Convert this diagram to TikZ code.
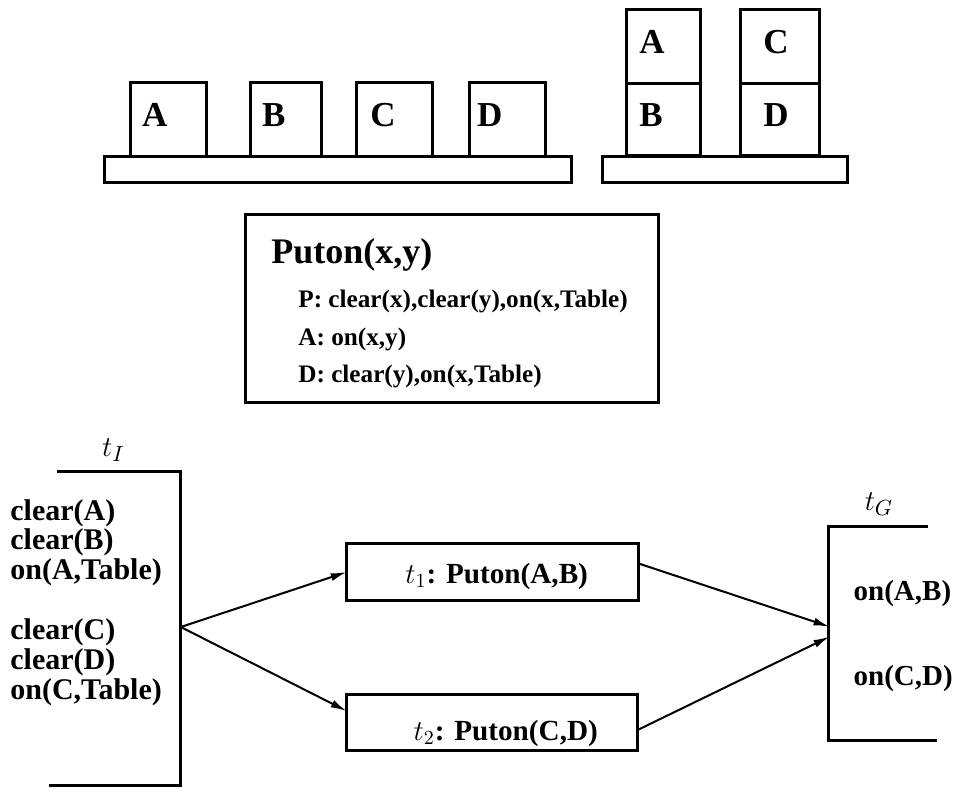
\documentclass[tikz,border=0pt]{standalone}
\usepackage{fontspec}
\setmainfont{Liberation Serif}
\usetikzlibrary{arrows.meta,calc}

\begin{document}
\begin{tikzpicture}[x=0.5pt,y=-0.5pt,
  thick edge/.style={line width=1.5pt},
  box/.style={draw, line width=1.5pt, inner sep=0pt, outer sep=0pt, anchor=north west},
  blocklabel/.style={anchor=base west, inner sep=0pt, font=\fontsize{17.5}{20}\selectfont\bfseries},
  factlabel/.style={anchor=base west, inner sep=0pt, font=\fontsize{15}{18}\selectfont\bfseries},
  goallabel/.style={anchor=base west, inner sep=0pt, font=\fontsize{14.5}{17}\selectfont\bfseries},
  oplabel/.style={anchor=base west, inner sep=0pt, font=\fontsize{12.6}{15}\selectfont\bfseries},
  steplabel/.style={anchor=base west, inner sep=0pt, font=\fontsize{14.6}{17}\selectfont\bfseries},
  link/.style={line width=1pt, -{Latex[length=8pt,width=4pt]}}]

\useasboundingbox (0,0) rectangle (960,789);

% initial state: four blocks on the table
\node[box, minimum width=38.35pt, minimum height=37pt] (bA) at (130,82.7) {};
\node[box, minimum width=35.85pt, minimum height=37pt] (bB) at (250,82.7) {};
\node[box, minimum width=38.35pt, minimum height=37pt] (bC) at (356,82.7) {};
\node[box, minimum width=38.35pt, minimum height=37pt] (bD) at (469,82.7) {};
\node[box, minimum width=233.85pt, minimum height=13pt] (table1) at (104,156.7) {};
\node[blocklabel] (lA) at (141.7,126.7) {A};
\node[blocklabel] (lB) at (261.7,126.7) {B};
\node[blocklabel] (lC) at (370,126.7) {C};
\node[blocklabel] (lD) at (476.7,126.7) {D};

% goal state: A on B, C on D
\node[box, minimum width=36.65pt, minimum height=37pt] (gA) at (626.7,9.3) {};
\node[box, minimum width=36.65pt, minimum height=35.85pt] (gB) at (626.7,83.3) {};
\node[box, minimum width=39.65pt, minimum height=37pt] (gC) at (740,9.3) {};
\node[box, minimum width=39.65pt, minimum height=35.85pt] (gD) at (740,83.3) {};
\node[box, minimum width=122.3pt, minimum height=13.35pt] (table2) at (602.7,156) {};
\node[blocklabel] (mA) at (639,53.3) {A};
\node[blocklabel] (mB) at (639,126.7) {B};
\node[blocklabel] (mC) at (763,53.3) {C};
\node[blocklabel] (mD) at (763,126.7) {D};

% operator schema
\node[box, minimum width=206.5pt, minimum height=94pt] (schema) at (245,214) {};
\node[anchor=base west, inner sep=0pt, font=\fontsize{18}{21}\selectfont\bfseries] (title) at (271,263) {Puton(x,y)};
\node[oplabel] (pre) at (298,307) {P: clear(x),clear(y),on(x,Table)};
\node[oplabel] (add) at (298,345) {A: on(x,y)};
\node[oplabel] (del) at (298,382) {D: clear(y),on(x,Table)};

% initial step t_I
\node[anchor=base west, inner sep=0pt, font=\fontsize{15}{18}\selectfont] (tI) at (101.7,456) {$t_I$};
\draw[thick edge] (57.3,471) -- (180,471) -- (180,785) -- (49.3,785);
\coordinate (tIout) at (180.8,627);
\node[factlabel] (f1) at (10,520) {clear(A)};
\node[factlabel] (f2) at (10,549.5) {clear(B)};
\node[factlabel] (f3) at (10,579) {on(A,Table)};
\node[factlabel] (f4) at (10,639) {clear(C)};
\node[factlabel] (f5) at (10,669) {clear(D)};
\node[factlabel] (f6) at (10,699) {on(C,Table)};

% goal step t_G
\node[anchor=base, inner sep=0pt, font=\fontsize{15}{18}\selectfont] (tG) at (879,510.7) {$t_G$};
\draw[thick edge] (928.3,526.7) -- (828.3,526.7) -- (828.3,740) -- (936.7,740);
\coordinate (tGinA) at (829.5,626.7);
\coordinate (tGinB) at (829.5,636.7);
\node[goallabel] (g1) at (853.3,600) {on(A,B)};
\node[goallabel] (g2) at (853.3,685) {on(C,D)};

% plan steps
\node[box, minimum width=145.8pt, minimum height=28.7pt] (t1) at (346.7,543.3) {};
\node[steplabel] (t1text) at (405,583.3) {$t_1$: Puton(A,B)};
\node[box, minimum width=145.5pt, minimum height=27.85pt] (t2) at (346.7,694.3) {};
\node[steplabel] (t2text) at (413.3,740) {$t_2$: Puton(C,D)};

% ordering links
\draw[link] (tIout) -- (t1.west);
\draw[link] (tIout) -- ($(t2.north west)!0.3!(t2.south west)$);
\draw[link] ($(t1.north east)!0.35!(t1.south east)$) -- (tGinA);
\draw[link] ($(t2.north east)!0.64!(t2.south east)$) -- (tGinB);
\end{tikzpicture}
\end{document}
